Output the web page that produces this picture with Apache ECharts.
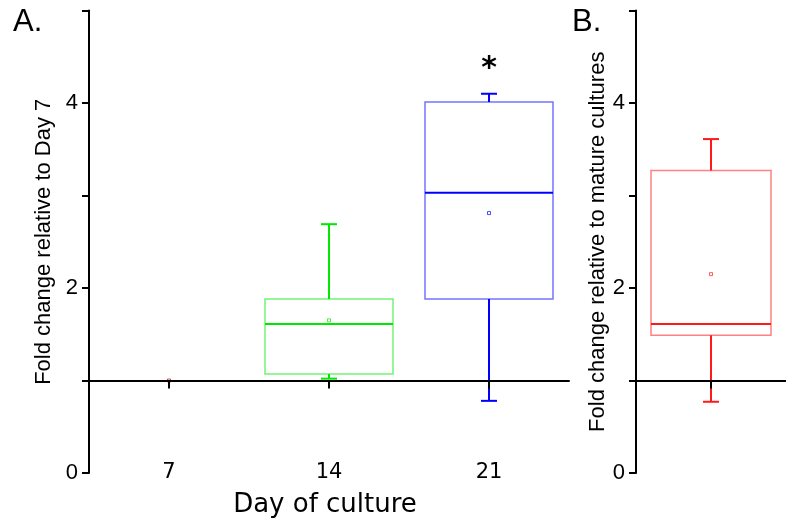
<!DOCTYPE html>
<html>
<head>
<meta charset="utf-8">
<script src="https://cdn.jsdelivr.net/npm/echarts@6/dist/echarts.min.js"></script>
<style>
  html, body { margin: 0; padding: 0; background: #fff; }
  #chart { width: 786px; height: 524px; }
</style>
</head>
<body>
<div id="chart"></div>
<script>
// panel A: day of culture
const days = ['7', '14', '21'];
const lowA = [1, 1.02, 0.78];
const q1A = [1, 1.07, 1.88];
const medA = [1, 1.61, 3.03];
const q3A = [1, 1.88, 4.01];
const highA = [1, 2.69, 4.10];
const meanA = [1, 1.65, 2.81];

// panel B: single group
const groupsB = [''];
const lowB = [0.77];
const q1B = [1.49];
const medB = [1.61];
const q3B = [3.27];
const highB = [3.61];
const meanB = [2.15];

const yTicks = [0, 2, 4];
const refLevel = 1;
const signif = { cat: '21', y: 4.37, text: '*' };

const colorsA = ['#c00000', '#00e800', '#0000ff'];
const colorsB = ['#ff1a1a'];

const chart = echarts.init(document.getElementById('chart'));

const gridH = 462.5;
const yMax = 5;
const refOffset = -gridH * refLevel / yMax;

function boxRows(cats, low, q1, med, q3, high, mean) {
    return cats.map((c, i) => [i, low[i], q1[i], med[i], q3[i], high[i], mean[i]]);
}

function makeRender(colors) {
    return function (params, api) {
        const i = api.value(0);
        const col = colors[params.dataIndex];
        const pLow = api.coord([i, api.value(1)]);
        const pQ1 = api.coord([i, api.value(2)]);
        const pMed = api.coord([i, api.value(3)]);
        const pQ3 = api.coord([i, api.value(4)]);
        const pHigh = api.coord([i, api.value(5)]);
        const pMean = api.coord([i, api.value(6)]);
        const bw = api.size([1, 0])[0] * 0.8;
        const cx = pMed[0];
        const cap = 8;
        const solid = { stroke: col, lineWidth: 2 };
        const kids = [];
        if (pQ1[1] - pQ3[1] > 0.5) {
            kids.push(
                { type: 'rect', shape: { x: cx - bw / 2, y: pQ3[1], width: bw, height: pQ1[1] - pQ3[1] },
                  style: { fill: null, stroke: col, lineWidth: 1.5, opacity: 0.55 } },
                { type: 'line', shape: { x1: cx - bw / 2, y1: pMed[1], x2: cx + bw / 2, y2: pMed[1] }, style: solid },
                { type: 'line', shape: { x1: cx, y1: pQ3[1], x2: cx, y2: pHigh[1] }, style: solid },
                { type: 'line', shape: { x1: cx, y1: pQ1[1], x2: cx, y2: pLow[1] }, style: solid },
                { type: 'line', shape: { x1: cx - cap, y1: pHigh[1], x2: cx + cap, y2: pHigh[1] }, style: solid },
                { type: 'line', shape: { x1: cx - cap, y1: pLow[1], x2: cx + cap, y2: pLow[1] }, style: solid }
            );
        }
        kids.push({ type: 'rect', shape: { x: pMean[0] - 1.5, y: pMean[1] - 1.5, width: 3, height: 3 },
                    style: { fill: null, stroke: col, lineWidth: 1, opacity: 0.7 } });
        return { type: 'group', children: kids };
    };
}

function yAxisFor(gi, name, gap) {
    return {
        gridIndex: gi, type: 'value', min: 0, max: yMax, interval: 1,
        name: name, nameLocation: 'middle', nameGap: gap,
        nameTextStyle: { fontFamily: 'Liberation Sans', fontSize: 22, color: '#000' },
        axisLine: { show: true, lineStyle: { color: '#000', width: 2 } },
        axisTick: { show: true, length: 7, lineStyle: { color: '#000', width: 2 } },
        axisLabel: {
            fontFamily: 'Liberation Sans', fontSize: 22, color: '#000', margin: 11,
            formatter: v => (yTicks.indexOf(v) >= 0 ? String(v) : '')
        },
        splitLine: { show: false }
    };
}

function refAxis(gi, cats) {
    return {
        gridIndex: gi, type: 'category', data: cats, position: 'bottom', offset: refOffset, z: 10,
        axisLine: { show: true, onZero: false, lineStyle: { color: '#000', width: 2 } },
        axisTick: { show: true, alignWithLabel: true, length: 8, lineStyle: { color: '#000', width: 2 } },
        axisLabel: { show: false },
        splitLine: { show: false }
    };
}

chart.setOption({
    animation: false,
    backgroundColor: '#fff',
    title: [
        { text: 'A.', left: 8, top: 2, textStyle: { fontFamily: 'Liberation Sans', fontSize: 31, fontWeight: 'normal', color: '#000' } },
        { text: 'B.', left: 567, top: 2, textStyle: { fontFamily: 'Liberation Sans', fontSize: 31, fontWeight: 'normal', color: '#000' } }
    ],
    grid: [
        { left: 89, top: 10.5, width: 480, height: gridH },
        { left: 636, top: 10.5, width: 160, height: gridH }
    ],
    xAxis: [
        {
            gridIndex: 0, type: 'category', data: days, position: 'bottom',
            axisLine: { show: false }, axisTick: { show: false },
            axisLabel: { fontFamily: 'DejaVu Sans', fontSize: 21, color: '#000', margin: 0, verticalAlign: 'middle' },
            name: 'Day of culture', nameLocation: 'middle', nameGap: 19,
            nameTextStyle: { fontFamily: 'DejaVu Sans', fontSize: 26, color: '#000', verticalAlign: 'top', padding: [0, 8, 0, 0] },
            splitLine: { show: false }
        },
        refAxis(0, days),
        refAxis(1, groupsB)
    ],
    yAxis: [
        yAxisFor(0, 'Fold change relative to Day 7', 30),
        yAxisFor(1, 'Fold change relative to mature cultures', 23)
    ],
    series: [
        {
            type: 'custom', xAxisIndex: 0, yAxisIndex: 0, z: 2,
            renderItem: makeRender(colorsA),
            encode: { x: 0, y: [1, 2, 3, 4, 5, 6] },
            data: boxRows(days, lowA, q1A, medA, q3A, highA, meanA)
        },
        {
            type: 'custom', xAxisIndex: 2, yAxisIndex: 1, z: 2,
            renderItem: makeRender(colorsB),
            encode: { x: 0, y: [1, 2, 3, 4, 5, 6] },
            data: boxRows(groupsB, lowB, q1B, medB, q3B, highB, meanB)
        },
        {
            type: 'scatter', xAxisIndex: 0, yAxisIndex: 0, symbolSize: 0, silent: true,
            data: [[signif.cat, signif.y]],
            itemStyle: { opacity: 1 },
            label: {
                show: true, position: 'inside', formatter: signif.text,
                fontFamily: 'DejaVu Sans', fontWeight: 'bold', fontSize: 30, color: '#000'
            }
        }
    ]
});
</script>
</body>
</html>
